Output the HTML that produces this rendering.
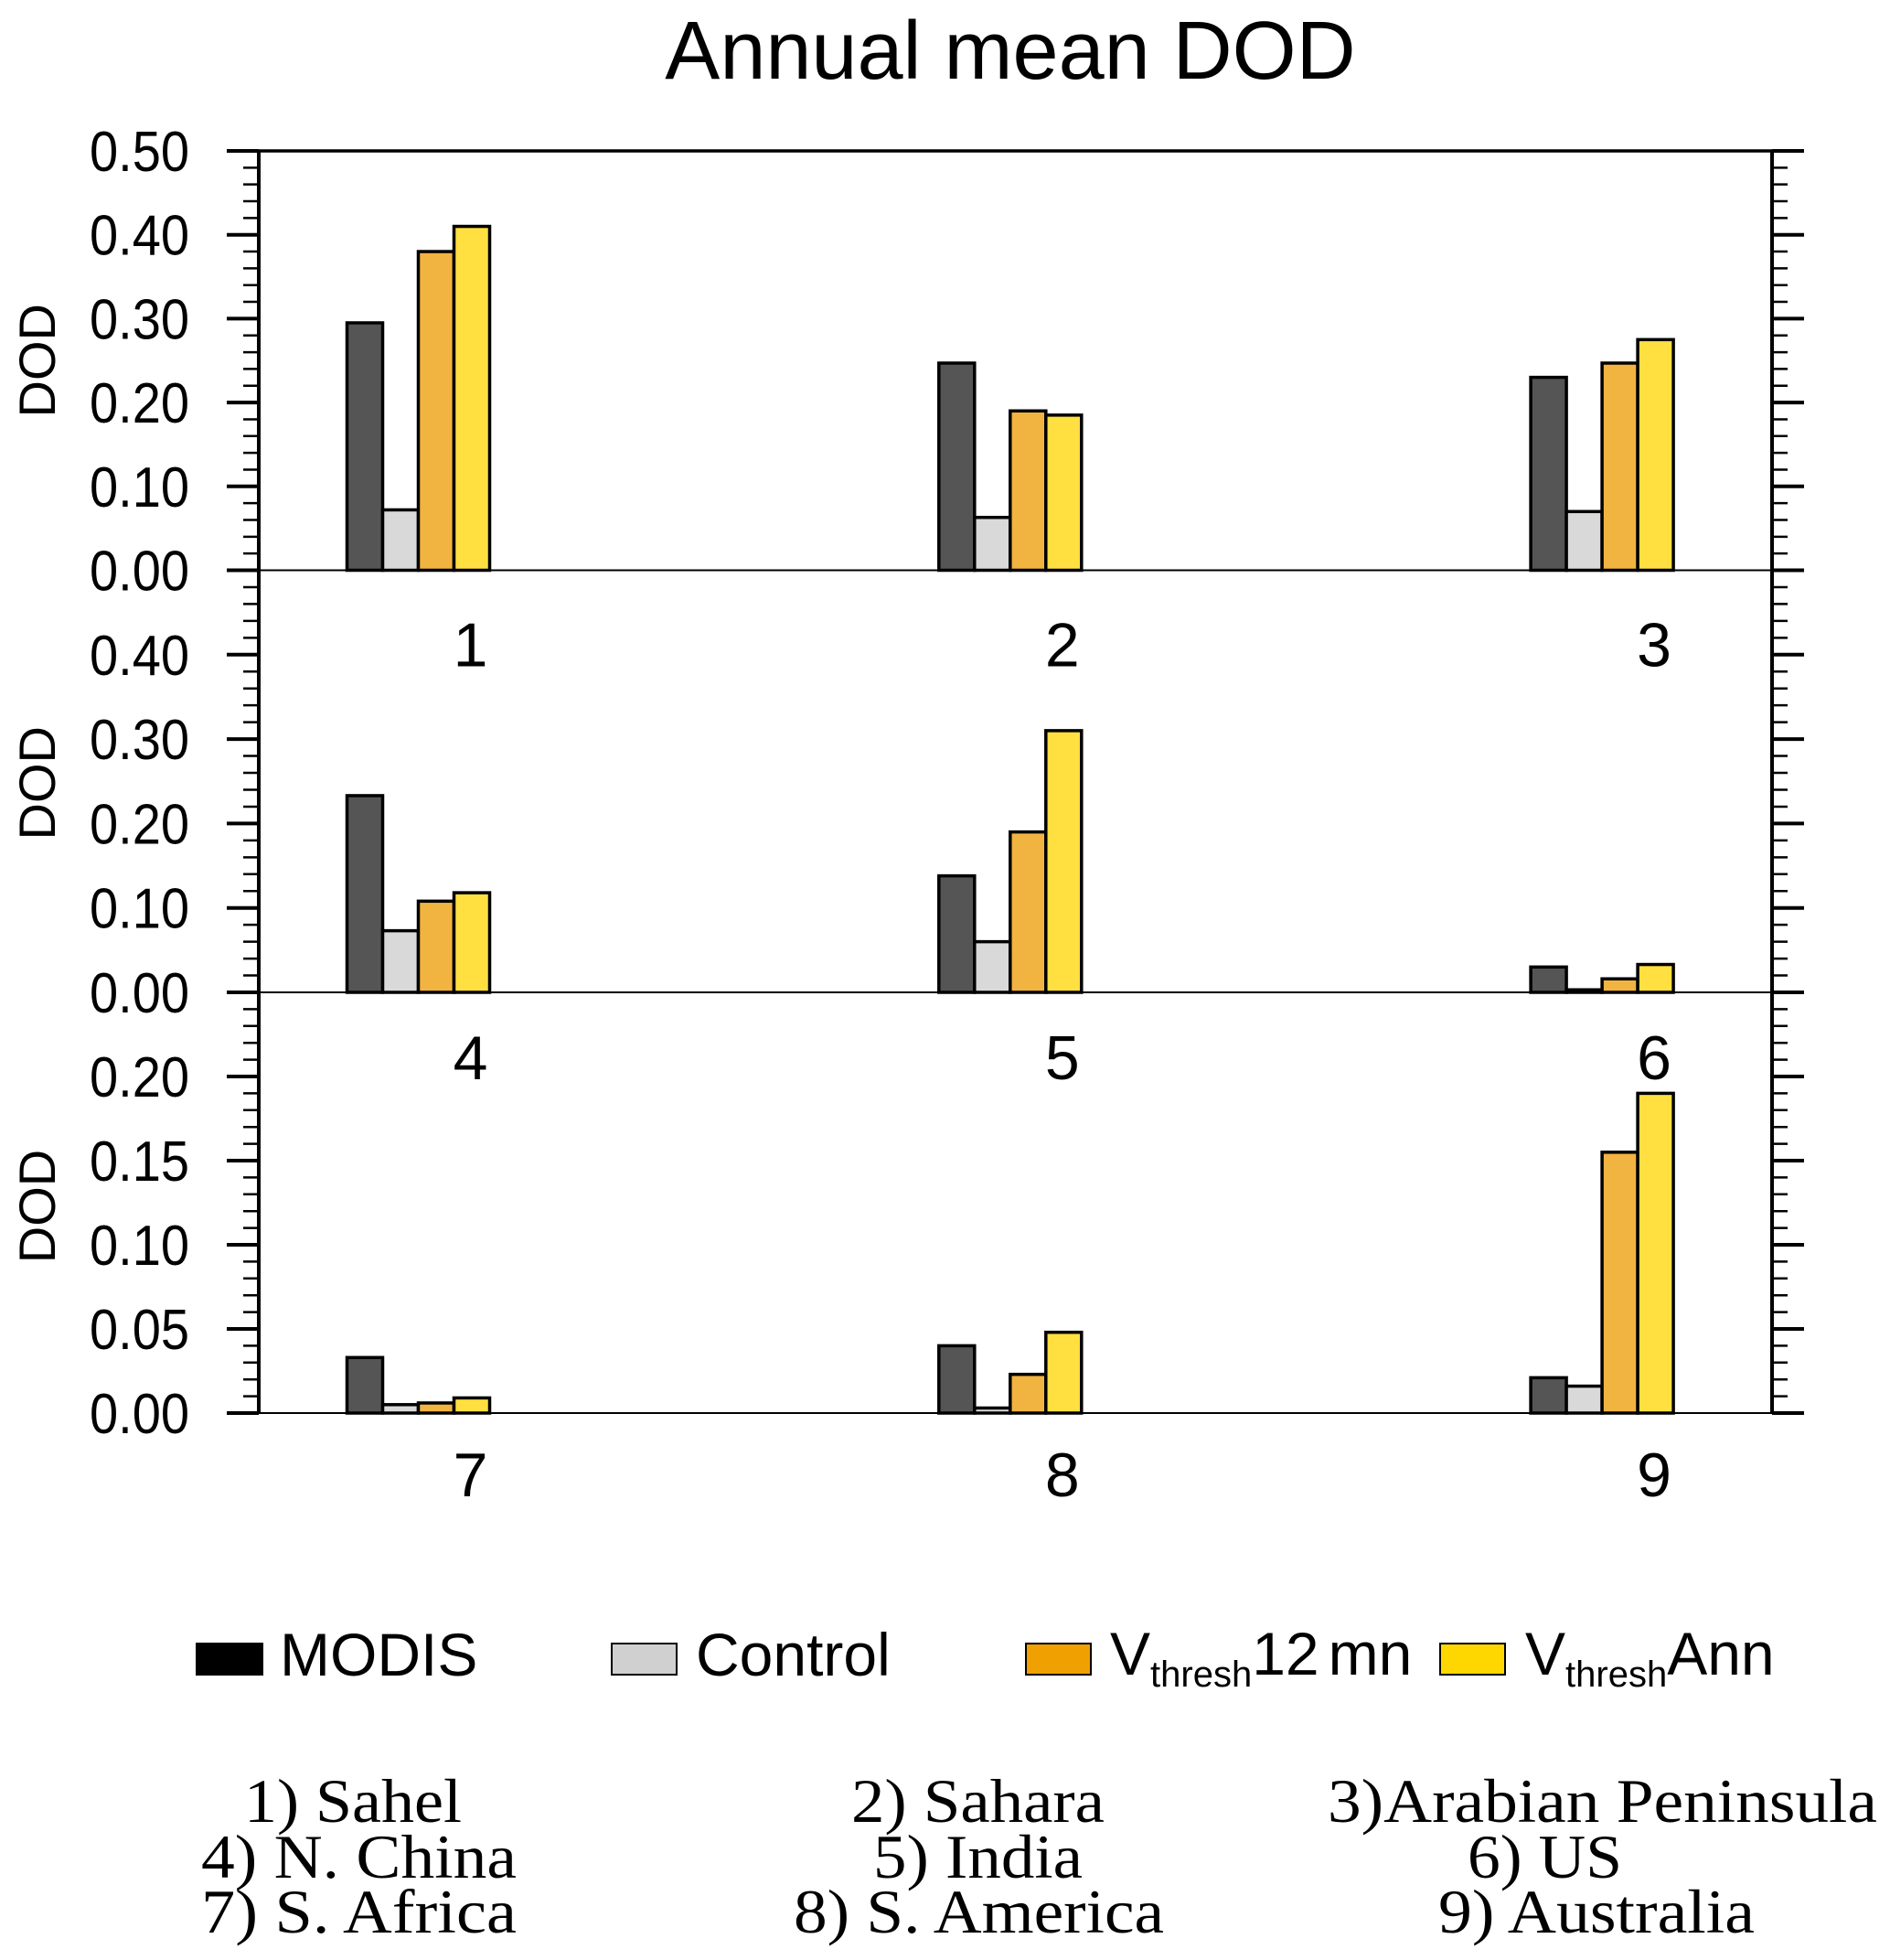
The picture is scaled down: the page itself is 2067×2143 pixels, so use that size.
<!DOCTYPE html>
<html><head><meta charset="utf-8"><style>
html,body{margin:0;padding:0;background:#fff;}
svg{display:block;}
</style></head><body>
<svg id="chart" width="2067" height="2143" viewBox="0 0 2067 2143" xmlns="http://www.w3.org/2000/svg" font-family="Liberation Sans, sans-serif">
<text x="1105" y="86" font-size="90" text-anchor="middle">Annual mean DOD</text>
<g id="panels"></g>
<g id="legend">
  <g>
    <rect x="215" y="1797" width="72" height="34" fill="#000" stroke="#000" stroke-width="2"/>
    <text x="306" y="1832" font-size="66">MODIS</text>
  </g>
  <g>
    <rect x="669" y="1797" width="71" height="34" fill="#d0d0d0" stroke="#000" stroke-width="2"/>
    <text x="761" y="1832" font-size="66">Control</text>
  </g>
  <g>
    <rect x="1122" y="1797" width="71" height="34" fill="#f0a000" stroke="#000" stroke-width="2"/>
    <text x="1214" y="1831" font-size="66">V<tspan font-size="40" dy="13">thresh</tspan><tspan dy="-13">12</tspan><tspan dx="10">mn</tspan></text>
  </g>
  <g>
    <rect x="1575" y="1797" width="71" height="34" fill="#ffd700" stroke="#000" stroke-width="2"/>
    <text x="1668" y="1831" font-size="66">V<tspan font-size="40" dy="13">thresh</tspan><tspan dy="-13">Ann</tspan></text>
  </g>
</g>
<g font-family="Liberation Serif, serif" font-size="68">
  <text x="267" y="1992" textLength="238" lengthAdjust="spacingAndGlyphs">1) Sahel</text>
  <text x="220" y="2053" textLength="345" lengthAdjust="spacingAndGlyphs">4) N. China</text>
  <text x="220" y="2113" textLength="345" lengthAdjust="spacingAndGlyphs">7) S. Africa</text>
  <text x="931" y="1992" textLength="277" lengthAdjust="spacingAndGlyphs">2) Sahara</text>
  <text x="955" y="2053" textLength="229" lengthAdjust="spacingAndGlyphs">5) India</text>
  <text x="868" y="2113" textLength="405" lengthAdjust="spacingAndGlyphs">8) S. America</text>
  <text x="1452" y="1992" textLength="601" lengthAdjust="spacingAndGlyphs">3)Arabian Peninsula</text>
  <text x="1605" y="2053" textLength="169" lengthAdjust="spacingAndGlyphs">6) US</text>
  <text x="1573" y="2113" textLength="346" lengthAdjust="spacingAndGlyphs">9) Australia</text>
</g>
</svg>
<script>
const categories = ["1","2","3","4","5","6","7","8","9"];
const seriesNames = ["MODIS","Control","Vthresh12mn","VthreshAnn"];
const modis   = [0.295,0.247,0.230, 0.233,0.138,0.030, 0.033,0.040,0.021];
const control = [0.072,0.063,0.070, 0.073,0.060,0.003, 0.005,0.003,0.016];
const v12mn   = [0.380,0.190,0.247, 0.108,0.190,0.016, 0.006,0.023,0.155];
const vAnn    = [0.410,0.185,0.275, 0.118,0.310,0.033, 0.009,0.048,0.190];
const panelMax = [0.5,0.5,0.25];
const panelMajor = [0.1,0.1,0.05];
const tickLabels1 = ["0.00","0.10","0.20","0.30","0.40","0.50"];
const tickLabels2 = ["0.00","0.10","0.20","0.30","0.40"];
const tickLabels3 = ["0.00","0.05","0.10","0.15","0.20"];

const NS = "http://www.w3.org/2000/svg";
const root = document.getElementById('panels');
const L = 283, R = 1938;
const tops = [165, 623.5, 1085];
const zeros = [623.5, 1085, 1545];
const labelOffsets = [105, 95, 91];
const titleShift = [0, 2, 4];
const groupX0 = 457.5, groupStep = 647.3, barW = 39;
const series = [modis, control, v12mn, vAnn];
const fills = ["#555555","#d9d9d9","#f2b440","#ffe040"];
const allTicks = [tickLabels1, tickLabels2, tickLabels3];

function mk(tag, attrs, parent){
  const e = document.createElementNS(NS, tag);
  for (const k in attrs) e.setAttribute(k, attrs[k]);
  parent.appendChild(e);
  return e;
}
function xScale(slot){ return groupX0 + slot*groupStep; }

for (let p=0; p<3; p++){
  const g = mk('g', {}, root);
  
  
  const top = tops[p], zero = zeros[p], mx = panelMax[p];
  const y = v => zero - v/mx*(zero-top);
  const minorStep = panelMajor[p]/5;
  const nMinor = Math.round(mx/minorStep);
  for (let i=0;i<=nMinor;i++){
    const yy = y(i*minorStep);
    const major = i%5===0;
    const len = major ? 35 : 17;
    const t1 = mk('line', {x1:L-len, x2:L, y1:yy, y2:yy, stroke:'#000', 'stroke-width': major?4:2.5}, g);
    
    
    const t2 = mk('line', {x1:R, x2:R+len, y1:yy, y2:yy, stroke:'#000', 'stroke-width': major?4:2.5}, g);
    
    
  }
  const labs = allTicks[p];
  for (let i=0;i<labs.length;i++){
    const t = mk('text', {x:98, y:y(i*panelMajor[p])+22, 'font-size':62, textLength:109, lengthAdjust:'spacingAndGlyphs'}, g);
    
    
    t.textContent = labs[i];
  }
  const cy = (top+zero)/2 + titleShift[p];
  const yt = mk('text', {x:0, y:0, 'font-size':56, 'text-anchor':'middle', transform:`translate(60 ${cy}) rotate(-90)`}, g);
  
  
  yt.textContent = 'DOD';
  for (let c=0;c<3;c++){
    const idx = p*3 + c;
    const cx = xScale(c);
    for (let s=0;s<4;s++){
      const v = series[s][idx];
      const bx = cx - 2*barW + s*barW;
      const r = mk('rect', {x:bx, y:y(v), width:barW, height:zero-y(v), fill:fills[s], stroke:'#000', 'stroke-width':3.5}, g);
      
      
    }
    const lab = mk('text', {x:cx+57, y:zero+labelOffsets[p], 'font-size':68, 'text-anchor':'middle'}, g);
    
    
    lab.textContent = categories[idx];
  }
  const zl = mk('line', {x1:L, x2:R, y1:zero, y2:zero, stroke:'#000', 'stroke-width':2}, g);
  
  
  const la = mk('line', {x1:L, x2:L, y1:top, y2:zero, stroke:'#000', 'stroke-width':4}, g);
  
  
  const ra = mk('line', {x1:R, x2:R, y1:top, y2:zero, stroke:'#000', 'stroke-width':4}, g);
  
  
  if (p===0){
    const tb = mk('line', {x1:L, x2:R, y1:top, y2:top, stroke:'#000', 'stroke-width':3.5}, g);
    
    
  }
}
</script>
</body></html>
